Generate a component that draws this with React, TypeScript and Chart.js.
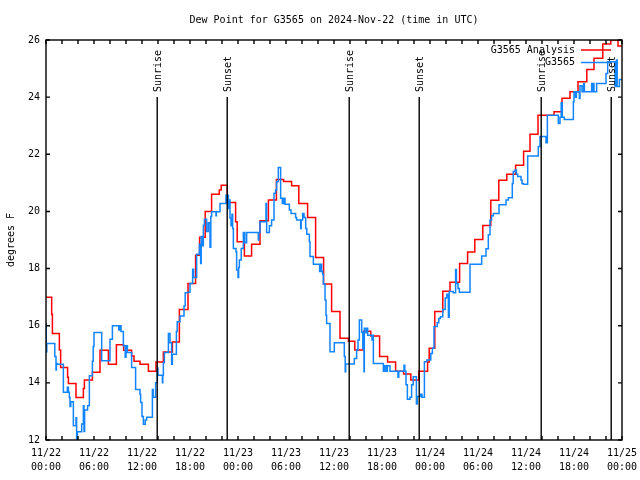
import { useEffect, useRef } from 'react';
import { Chart, registerables } from 'chart.js';

Chart.register(...registerables);

const FONT = "'DejaVu Sans Mono', monospace";
const TITLE = 'Dew Point for G3565 on 2024-Nov-22 (time in UTC)';
const Y_TITLE = 'degrees F';

const X_TICK_DATES = ['11/22', '11/22', '11/22', '11/22', '11/23', '11/23', '11/23', '11/23', '11/24', '11/24', '11/24', '11/24', '11/25'];
const X_TICK_TIMES = ['00:00', '06:00', '12:00', '18:00', '00:00', '06:00', '12:00', '18:00', '00:00', '06:00', '12:00', '18:00', '00:00'];

const SERIES_NAMES = ['G3565 Analysis', 'G3565'];
const SERIES_COLORS = ['#ff0000', '#1184ff'];

// hours since 11/22 00:00 UTC
const analysisHours = [0, 0.71, 0.8, 1.67, 1.83, 2.7, 2.8, 3.75, 4.67, 4.8, 5.8, 6.75, 7.8, 8.8, 9.7, 10.7, 11.0, 11.75, 12.8, 13.75, 14.67, 15.8, 16.67, 17.75, 18.7, 19.2, 19.9, 20.7, 21.66, 21.9, 22.66, 23.7, 23.9, 24.8, 25.7, 26.75, 27.8, 28.8, 29.7, 30.7, 31.6, 32.7, 33.7, 34.7, 35.7, 36.75, 37.8, 38.6, 39.7, 40.6, 41.7, 42.7, 43.7, 44.7, 45.6, 46.6, 47.7, 47.9, 48.6, 49.6, 50.5, 51.7, 52.7, 53.6, 54.6, 55.6, 56.6, 57.6, 58.7, 59.7, 60.5, 61.5, 63.5, 64.5, 65.5, 66.5, 67.6, 68.5, 69.6, 70.6, 71.5, 72];
const analysisValues = [17.0, 16.4, 15.73, 15.15, 14.54, 14.2, 13.98, 13.49, 13.8, 14.1, 14.37, 15.14, 14.65, 15.33, 15.14, 14.94, 14.76, 14.65, 14.41, 14.73, 15.08, 15.43, 16.57, 17.48, 18.47, 19.1, 20.0, 20.6, 20.75, 20.92, 20.31, 19.64, 18.94, 18.44, 18.85, 19.67, 20.4, 21.12, 21.05, 20.9, 20.28, 19.79, 18.39, 17.46, 16.5, 15.56, 15.46, 15.15, 15.81, 15.64, 14.92, 14.73, 14.41, 14.31, 14.1, 14.41, 14.73, 15.21, 16.5, 17.21, 17.52, 18.18, 18.58, 19.02, 19.51, 20.39, 21.09, 21.3, 21.62, 22.11, 22.7, 23.37, 23.49, 23.96, 24.19, 24.54, 24.97, 25.36, 25.86, 26.0, 25.79, 25.79];

const obsHours = [0, 0.03, 0.1, 1.1, 1.25, 1.3, 1.42, 2.17, 2.67, 2.8, 2.92, 3.0, 3.1, 3.42, 3.75, 3.83, 3.92, 4.46, 4.67, 4.75, 4.83, 5.2, 5.42, 5.8, 5.9, 6.0, 6.96, 8.0, 8.3, 9.1, 9.2, 9.38, 9.67, 9.9, 10.0, 10.17, 10.7, 11.2, 11.75, 11.83, 12.0, 12.17, 12.4, 12.58, 13.3, 13.4, 13.7, 13.92, 14.0, 14.55, 14.6, 14.67, 14.8, 15.3, 15.5, 15.7, 15.8, 16.3, 16.4, 16.75, 17.25, 17.4, 17.67, 18.0, 18.33, 18.45, 18.83, 19.17, 19.33, 19.4, 19.55, 19.67, 19.8, 20.08, 20.29, 20.5, 20.6, 20.7, 21.25, 21.3, 21.75, 22.5, 22.6, 22.7, 22.8, 22.9, 23.0, 23.13, 23.25, 23.33, 23.42, 23.75, 23.83, 24.0, 24.08, 24.17, 24.4, 24.67, 24.85, 25.08, 26.54, 26.6, 26.75, 27.5, 27.58, 27.92, 28.2, 28.5, 28.7, 28.83, 29.04, 29.33, 29.54, 29.7, 29.88, 30.42, 30.63, 31.2, 31.33, 31.83, 31.9, 32.08, 32.25, 32.46, 32.6, 32.92, 33.0, 33.42, 34.2, 34.3, 34.46, 34.58, 34.67, 34.88, 35.0, 35.08, 35.5, 36.04, 37.29, 37.4, 37.46, 38.54, 38.83, 39.0, 39.17, 39.46, 39.6, 39.75, 39.79, 40.0, 40.08, 40.21, 40.75, 40.8, 40.92, 42.17, 42.3, 42.5, 42.67, 43.0, 44.0, 44.1, 44.75, 44.85, 45.0, 45.17, 45.5, 45.7, 45.9, 46.3, 46.4, 46.83, 47.0, 47.3, 47.6, 48.1, 48.3, 48.5, 48.9, 49.1, 49.3, 49.6, 49.9, 50.1, 50.3, 50.4, 50.9, 51.2, 51.3, 51.5, 51.67, 53.0, 54.46, 55.0, 55.29, 55.5, 55.7, 55.92, 56.63, 57.5, 57.79, 58.29, 58.4, 58.63, 58.8, 58.96, 59.38, 59.5, 59.67, 60.21, 61.54, 61.75, 62.5, 62.67, 64.04, 64.25, 64.4, 64.54, 64.79, 65.92, 66.0, 66.2, 66.3, 66.67, 66.75, 67.0, 67.2, 67.3, 68.21, 68.3, 68.4, 68.5, 68.83, 70.0, 70.21, 71.13, 71.3, 71.4, 71.67, 72];
const obsValues = [16.08, 15.09, 15.38, 14.92, 14.45, 14.68, 14.65, 13.67, 13.85, 13.67, 13.49, 13.17, 13.34, 12.5, 12.78, 12.02, 12.29, 12.56, 13.2, 12.3, 13.05, 13.2, 14.25, 14.76, 15.27, 15.76, 14.77, 15.53, 16.0, 15.85, 16.0, 15.8, 15.3, 14.9, 15.3, 15.06, 14.54, 13.77, 13.6, 13.31, 12.82, 12.55, 12.7, 12.8, 13.77, 13.5, 14.0, 14.51, 14.27, 14.0, 14.27, 14.7, 15.06, 15.73, 15.4, 14.65, 15.0, 15.8, 16.14, 16.34, 16.69, 17.15, 17.17, 17.48, 17.98, 17.69, 18.5, 18.85, 18.18, 19.12, 18.8, 19.52, 19.73, 19.3, 19.6, 18.75, 19.82, 19.99, 19.85, 19.99, 20.28, 20.57, 20.3, 20.57, 20.1, 20.4, 19.77, 19.5, 19.9, 19.4, 18.7, 18.59, 17.95, 17.69, 18.04, 18.3, 18.7, 19.26, 18.9, 19.26, 19.0, 19.26, 19.64, 20.28, 19.26, 19.5, 19.7, 20.64, 20.75, 21.04, 21.54, 20.46, 20.28, 20.46, 20.25, 20.05, 19.93, 19.79, 19.7, 19.4, 19.7, 19.93, 19.79, 19.4, 19.2, 18.94, 18.42, 18.15, 17.9, 18.15, 17.9, 17.8, 17.46, 16.9, 16.37, 16.08, 15.09, 15.4, 14.92, 14.39, 14.66, 14.85, 15.15, 15.5, 16.2, 15.77, 15.2, 14.39, 15.91, 15.75, 15.91, 15.67, 15.5, 15.67, 14.68, 14.41, 14.6, 14.41, 14.6, 14.41, 14.2, 14.41, 14.62, 14.41, 13.93, 13.43, 13.5, 13.93, 14.21, 13.26, 13.52, 13.6, 13.5, 14.74, 14.8, 15.03, 15.21, 15.97, 16.1, 16.25, 16.31, 16.57, 16.97, 17.1, 16.3, 17.2, 17.15, 17.97, 17.48, 17.3, 17.17, 18.15, 18.44, 18.69, 19.18, 19.7, 19.85, 19.93, 20.23, 20.4, 20.48, 20.98, 21.4, 21.45, 21.3, 21.22, 21.1, 20.98, 20.95, 21.94, 22.27, 22.62, 22.4, 23.37, 23.08, 23.3, 23.8, 23.3, 23.22, 23.84, 24.19, 24.0, 24.19, 23.95, 24.4, 24.19, 24.48, 24.19, 24.48, 24.19, 24.48, 24.19, 24.48, 24.83, 25.24, 24.37, 25.3, 24.37, 24.62, 24.62];

const sunEventHours = [13.9, 22.65, 37.9, 46.65, 61.9, 70.65];
const sunEventLabels = ['Sunrise', 'Sunset', 'Sunrise', 'Sunset', 'Sunrise', 'Sunset'];

const zip = (xs: number[], ys: number[]) => xs.map((x, i) => ({ x, y: ys[i] }));

const decorPlugin = {
  id: 'decor',
  afterDatasetsDraw(chart: any) {
    const { ctx, chartArea: a, scales } = chart;
    const xs = scales.x;
    const ys = scales.y;
    ctx.save();
    ctx.strokeStyle = '#000';
    ctx.fillStyle = '#000';

    // sunrise / sunset lines and labels
    ctx.lineWidth = 1.4;
    sunEventHours.forEach((h, i) => {
      const px = xs.getPixelForValue(h);
      ctx.beginPath();
      ctx.moveTo(px, a.top + 57);
      ctx.lineTo(px, a.bottom);
      ctx.stroke();
      ctx.save();
      ctx.translate(px + 1, a.top + 52);
      ctx.rotate(-Math.PI / 2);
      ctx.font = `10px ${FONT}`;
      ctx.textAlign = 'left';
      ctx.textBaseline = 'middle';
      ctx.fillText(sunEventLabels[i], 0, 0);
      ctx.restore();
    });

    // frame
    ctx.lineWidth = 1.4;
    ctx.strokeRect(a.left, a.top, a.right - a.left, a.bottom - a.top);

    // inward tick marks
    const tl = 4;
    ctx.beginPath();
    xs.ticks.forEach((t: any) => {
      const px = xs.getPixelForValue(t.value);
      ctx.moveTo(px, a.bottom);
      ctx.lineTo(px, a.bottom - tl);
      ctx.moveTo(px, a.top);
      ctx.lineTo(px, a.top + tl);
    });
    ys.ticks.forEach((t: any) => {
      const py = ys.getPixelForValue(t.value);
      ctx.moveTo(a.left, py);
      ctx.lineTo(a.left + tl, py);
      ctx.moveTo(a.right, py);
      ctx.lineTo(a.right - tl, py);
    });
    ctx.stroke();

    // y axis title
    ctx.save();
    ctx.translate(11, (a.top + a.bottom) / 2);
    ctx.rotate(-Math.PI / 2);
    ctx.font = `10px ${FONT}`;
    ctx.textAlign = 'center';
    ctx.textBaseline = 'middle';
    ctx.fillText(Y_TITLE, 0, 0);
    ctx.restore();

    // legend
    ctx.font = `10px ${FONT}`;
    ctx.textAlign = 'right';
    ctx.textBaseline = 'middle';
    chart.data.datasets
      .slice()
      .sort((d1: any, d2: any) => d1.legendIndex - d2.legendIndex)
      .forEach((ds: any, i: number) => {
        const ly = a.top + 10 + i * 12.5;
        ctx.fillStyle = '#000';
        ctx.fillText(ds.label, a.right - 47, ly);
        ctx.strokeStyle = ds.borderColor;
        ctx.lineWidth = 1.5;
        ctx.beginPath();
        ctx.moveTo(a.right - 41, ly);
        ctx.lineTo(a.right - 11, ly);
        ctx.stroke();
      });
    ctx.restore();
  },
};

export default function App() {
  const ref = useRef<HTMLCanvasElement>(null);

  useEffect(() => {
    document.body.style.margin = '0';
    const canvas = ref.current;
    if (!canvas) return;
    const chart = new Chart(canvas, {
      type: 'line',
      data: {
        datasets: [
          {
            label: SERIES_NAMES[0],
            data: zip(analysisHours, analysisValues),
            borderColor: SERIES_COLORS[0],
            backgroundColor: SERIES_COLORS[0],
            borderWidth: 1.5,
            pointRadius: 0,
            stepped: true,
            fill: false,
            order: 2,
            legendIndex: 0,
          } as any,
          {
            label: SERIES_NAMES[1],
            data: zip(obsHours, obsValues),
            borderColor: SERIES_COLORS[1],
            backgroundColor: SERIES_COLORS[1],
            borderWidth: 1.5,
            pointRadius: 0,
            stepped: true,
            fill: false,
            order: 1,
            legendIndex: 1,
          } as any,
        ],
      },
      options: {
        responsive: false,
        animation: false,
        devicePixelRatio: 1,
        layout: { padding: { left: 0, right: 18, top: 0, bottom: 0 } },
        plugins: {
          legend: { display: false },
          tooltip: { enabled: false },
          title: {
            display: true,
            fullSize: false,
            text: TITLE,
            color: '#000',
            font: { family: FONT, size: 10, weight: 'normal', lineHeight: 1.2 },
            padding: { top: 14, bottom: 14 },
          },
        },
        scales: {
          x: {
            type: 'linear',
            min: 0,
            max: 72,
            afterFit: (s: any) => {
              s.height = 40;
              s.paddingLeft = 0;
              s.paddingRight = 0;
            },
            grid: { display: false, drawTicks: false },
            border: { display: false },
            ticks: {
              stepSize: 2,
              maxTicksLimit: 100,
              autoSkip: false,
              maxRotation: 0,
              minRotation: 0,
              padding: 6,
              color: '#000',
              font: { family: FONT, size: 10, lineHeight: 1.4 },
              callback: (v: any) => {
                const i = Number(v) / 6;
                if (Number.isInteger(i) && i < X_TICK_DATES.length) return [X_TICK_DATES[i], X_TICK_TIMES[i]];
                return '';
              },
            },
          },
          y: {
            type: 'linear',
            min: 12,
            max: 26,
            afterFit: (s: any) => {
              s.width = 46;
            },
            grid: { display: false, drawTicks: false },
            border: { display: false },
            ticks: {
              stepSize: 2,
              padding: 6,
              color: '#000',
              font: { family: FONT, size: 10 },
            },
          },
        },
      } as any,
      plugins: [decorPlugin],
    });
    return () => chart.destroy();
  }, []);

  return <canvas ref={ref} width={640} height={480} style={{ display: 'block' }} />;
}
